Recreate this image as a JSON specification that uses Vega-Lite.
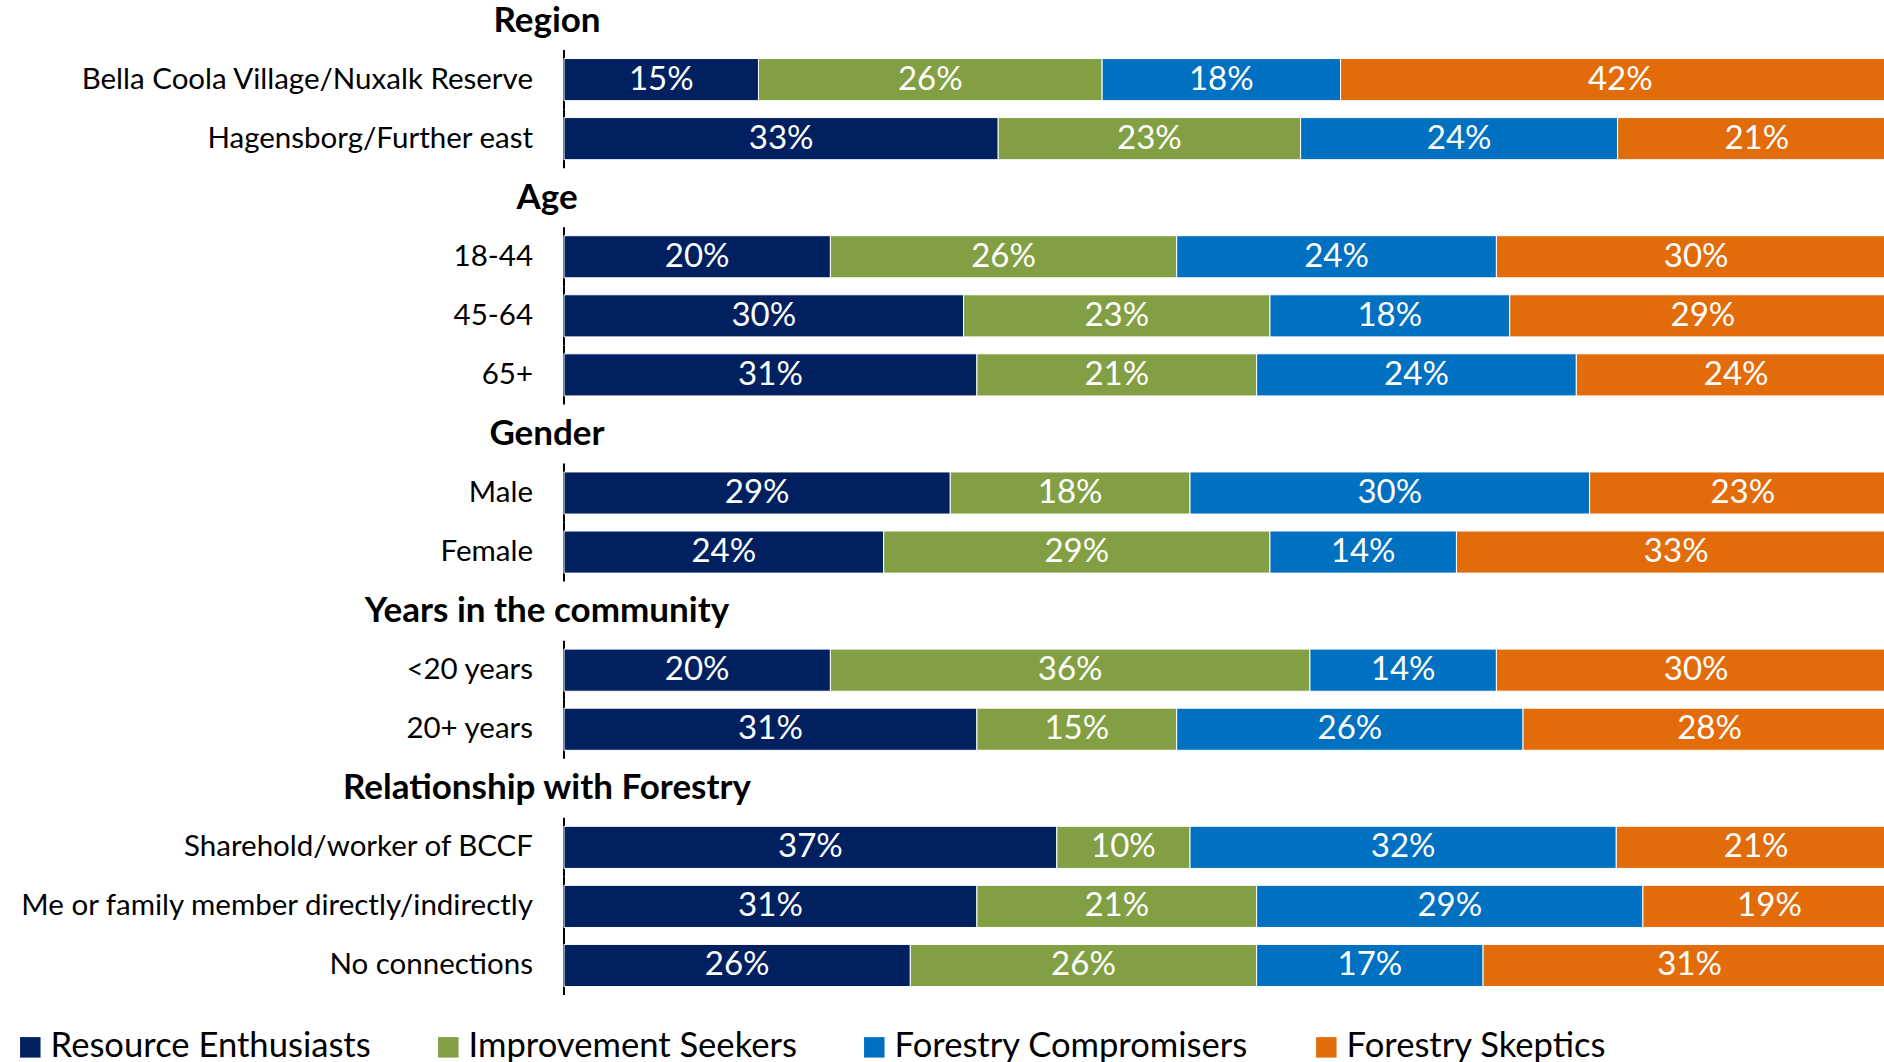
{
  "$schema": "https://vega.github.io/schema/vega-lite/v6.json",
  "width": 1320,
  "height": 1062,
  "autosize": {"type": "none"},
  "padding": {"left": 564, "top": 0, "right": 0, "bottom": 0},
  "background": "white",
  "config": {"view": {"stroke": null}, "font": "Lato"},
  "datasets": {
    "labels": [
      {"row": "Region", "kind": "header"},
      {"row": "Bella Coola Village/Nuxalk Reserve", "kind": "item"},
      {"row": "Hagensborg/Further east", "kind": "item"},
      {"row": "Age", "kind": "header"},
      {"row": "18-44", "kind": "item"},
      {"row": "45-64", "kind": "item"},
      {"row": "65+", "kind": "item"},
      {"row": "Gender", "kind": "header"},
      {"row": "Male", "kind": "item"},
      {"row": "Female", "kind": "item"},
      {"row": "Years in the community", "kind": "header"},
      {"row": "<20 years", "kind": "item"},
      {"row": "20+ years", "kind": "item"},
      {"row": "Relationship with Forestry", "kind": "header"},
      {"row": "Sharehold/worker of BCCF", "kind": "item"},
      {"row": "Me or family member directly/indirectly", "kind": "item"},
      {"row": "No connections", "kind": "item"}
    ],
    "bars": [
      {"row": "Bella Coola Village/Nuxalk Reserve", "segment": "Resource Enthusiasts", "value": 0.146},
      {"row": "Bella Coola Village/Nuxalk Reserve", "segment": "Improvement Seekers", "value": 0.258},
      {"row": "Bella Coola Village/Nuxalk Reserve", "segment": "Forestry Compromisers", "value": 0.179},
      {"row": "Bella Coola Village/Nuxalk Reserve", "segment": "Forestry Skeptics", "value": 0.42},
      {"row": "Hagensborg/Further east", "segment": "Resource Enthusiasts", "value": 0.326},
      {"row": "Hagensborg/Further east", "segment": "Improvement Seekers", "value": 0.227},
      {"row": "Hagensborg/Further east", "segment": "Forestry Compromisers", "value": 0.238},
      {"row": "Hagensborg/Further east", "segment": "Forestry Skeptics", "value": 0.209},
      {"row": "18-44", "segment": "Resource Enthusiasts", "value": 0.20},
      {"row": "18-44", "segment": "Improvement Seekers", "value": 0.26},
      {"row": "18-44", "segment": "Forestry Compromisers", "value": 0.24},
      {"row": "18-44", "segment": "Forestry Skeptics", "value": 0.30},
      {"row": "45-64", "segment": "Resource Enthusiasts", "value": 0.30},
      {"row": "45-64", "segment": "Improvement Seekers", "value": 0.23},
      {"row": "45-64", "segment": "Forestry Compromisers", "value": 0.18},
      {"row": "45-64", "segment": "Forestry Skeptics", "value": 0.29},
      {"row": "65+", "segment": "Resource Enthusiasts", "value": 0.31},
      {"row": "65+", "segment": "Improvement Seekers", "value": 0.21},
      {"row": "65+", "segment": "Forestry Compromisers", "value": 0.24},
      {"row": "65+", "segment": "Forestry Skeptics", "value": 0.24},
      {"row": "Male", "segment": "Resource Enthusiasts", "value": 0.29},
      {"row": "Male", "segment": "Improvement Seekers", "value": 0.18},
      {"row": "Male", "segment": "Forestry Compromisers", "value": 0.30},
      {"row": "Male", "segment": "Forestry Skeptics", "value": 0.23},
      {"row": "Female", "segment": "Resource Enthusiasts", "value": 0.24},
      {"row": "Female", "segment": "Improvement Seekers", "value": 0.29},
      {"row": "Female", "segment": "Forestry Compromisers", "value": 0.14},
      {"row": "Female", "segment": "Forestry Skeptics", "value": 0.33},
      {"row": "<20 years", "segment": "Resource Enthusiasts", "value": 0.20},
      {"row": "<20 years", "segment": "Improvement Seekers", "value": 0.36},
      {"row": "<20 years", "segment": "Forestry Compromisers", "value": 0.14},
      {"row": "<20 years", "segment": "Forestry Skeptics", "value": 0.30},
      {"row": "20+ years", "segment": "Resource Enthusiasts", "value": 0.31},
      {"row": "20+ years", "segment": "Improvement Seekers", "value": 0.15},
      {"row": "20+ years", "segment": "Forestry Compromisers", "value": 0.26},
      {"row": "20+ years", "segment": "Forestry Skeptics", "value": 0.28},
      {"row": "Sharehold/worker of BCCF", "segment": "Resource Enthusiasts", "value": 0.37},
      {"row": "Sharehold/worker of BCCF", "segment": "Improvement Seekers", "value": 0.10},
      {"row": "Sharehold/worker of BCCF", "segment": "Forestry Compromisers", "value": 0.32},
      {"row": "Sharehold/worker of BCCF", "segment": "Forestry Skeptics", "value": 0.21},
      {"row": "Me or family member directly/indirectly", "segment": "Resource Enthusiasts", "value": 0.31},
      {"row": "Me or family member directly/indirectly", "segment": "Improvement Seekers", "value": 0.21},
      {"row": "Me or family member directly/indirectly", "segment": "Forestry Compromisers", "value": 0.29},
      {"row": "Me or family member directly/indirectly", "segment": "Forestry Skeptics", "value": 0.19},
      {"row": "No connections", "segment": "Resource Enthusiasts", "value": 0.26},
      {"row": "No connections", "segment": "Improvement Seekers", "value": 0.26},
      {"row": "No connections", "segment": "Forestry Compromisers", "value": 0.17},
      {"row": "No connections", "segment": "Forestry Skeptics", "value": 0.31}
    ]
  },
  "layer": [
    {
      "data": {"name": "labels"},
      "transform": [{"filter": "datum.kind === 'item'"}],
      "mark": {"type": "tick", "orient": "vertical", "color": "#000000", "thickness": 2, "size": 59, "opacity": 1},
      "encoding": {
        "x": {"datum": 0, "type": "quantitative", "scale": {"domain": [0, 1], "nice": false, "zero": true, "range": [0, 1332]}, "axis": null},
        "y": {
          "field": "row", "type": "nominal", "axis": null,
          "scale": {
            "type": "band",
            "domain": ["Region", "Bella Coola Village/Nuxalk Reserve", "Hagensborg/Further east", "Age", "18-44", "45-64", "65+", "Gender", "Male", "Female", "Years in the community", "<20 years", "20+ years", "Relationship with Forestry", "Sharehold/worker of BCCF", "Me or family member directly/indirectly", "No connections"],
            "range": [-9, 995],
            "paddingInner": 0,
            "paddingOuter": 0
          }
        }
      }
    },
    {
      "data": {"name": "labels"},
      "transform": [{"filter": "datum.kind === 'item'"}],
      "mark": {"type": "text", "align": "right", "baseline": "middle", "dx": -31, "fontSize": 29.5, "font": "Lato", "color": "#000000"},
      "encoding": {
        "x": {"datum": 0, "type": "quantitative"},
        "y": {"field": "row", "type": "nominal"},
        "text": {"field": "row", "type": "nominal"}
      }
    },
    {
      "data": {"name": "labels"},
      "transform": [{"filter": "datum.kind === 'header'"}],
      "mark": {"type": "text", "align": "center", "baseline": "middle", "dx": -17, "fontSize": 35, "fontWeight": "bold", "font": "Lato", "color": "#000000"},
      "encoding": {
        "x": {"datum": 0, "type": "quantitative"},
        "y": {"field": "row", "type": "nominal"},
        "text": {"field": "row", "type": "nominal"}
      }
    },
    {
      "data": {"name": "bars"},
      "transform": [
        {"calculate": "indexof(['Resource Enthusiasts','Improvement Seekers','Forestry Compromisers','Forestry Skeptics'], datum.segment)", "as": "k"},
        {"stack": "value", "groupby": ["row"], "sort": [{"field": "k", "order": "ascending"}], "as": ["x0", "x1"]},
        {"calculate": "(datum.x0 + datum.x1) / 2", "as": "mid"}
      ],
      "layer": [
        {
          "mark": {"type": "bar", "height": {"band": 0.713}, "stroke": "#ffffff", "strokeWidth": 1},
          "encoding": {
            "x": {"field": "x0", "type": "quantitative"},
            "x2": {"field": "x1"},
            "y": {"field": "row", "type": "nominal"},
            "color": {
              "field": "segment", "type": "nominal",
              "scale": {
                "domain": ["Resource Enthusiasts", "Improvement Seekers", "Forestry Compromisers", "Forestry Skeptics"],
                "range": ["#002060", "#82A043", "#0070C0", "#E36C0A"]
              },
              "legend": {
                "orient": "none", "legendX": -551, "legendY": 1030,
                "direction": "horizontal", "title": null,
                "symbolType": "square", "symbolSize": 420, "symbolStrokeWidth": 0, "symbolOpacity": 1,
                "labelFontSize": 34.6, "labelFont": "Lato", "labelColor": "#000000", "labelLimit": 0,
                "labelOffset": 3, "columnPadding": 60, "padding": 0
              }
            }
          }
        },
        {
          "mark": {"type": "text", "align": "center", "baseline": "middle", "fontSize": 33, "font": "Lato", "color": "#ffffff"},
          "encoding": {
            "x": {"field": "mid", "type": "quantitative"},
            "y": {"field": "row", "type": "nominal"},
            "text": {"field": "value", "type": "quantitative", "format": ".0%"}
          }
        }
      ]
    }
  ]
}
